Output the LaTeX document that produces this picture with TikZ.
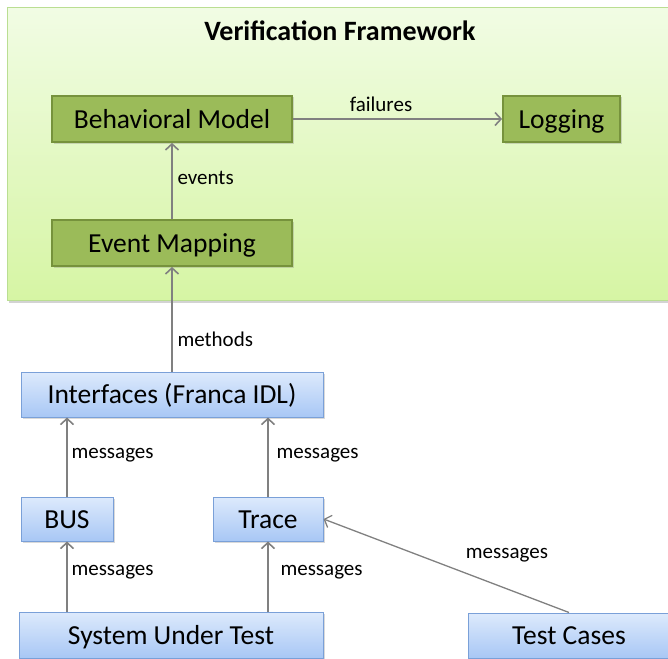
\documentclass[tikz,border=0pt]{standalone}
\usepackage{fontspec}
\setmainfont{Carlito}
\usetikzlibrary{arrows.meta,shadows}
\definecolor{FT}{RGB}{241,252,228}
\definecolor{FB}{RGB}{214,245,164}
\definecolor{FE}{RGB}{186,222,146}
\definecolor{G}{RGB}{155,187,89}
\definecolor{GD}{RGB}{118,146,60}
\definecolor{BT}{RGB}{221,234,252}
\definecolor{BB}{RGB}{168,199,245}
\definecolor{BD}{RGB}{122,160,216}
\definecolor{AR}{RGB}{128,128,128}

\tikzset{
  greenbox/.style={draw=GD, line width=1.8pt, fill=G, minimum height=46pt,
    inner sep=0pt, text height=21pt, text depth=3pt,
    font=\fontsize{27.5}{31}\selectfont,
    drop shadow={shadow xshift=1.5pt, shadow yshift=-1.5pt, opacity=.3}},
  bluebox/.style={draw=BD, line width=1pt, top color=BT, bottom color=BB,
    minimum height=45pt, inner sep=0pt, text height=21pt, text depth=3pt,
    font=\fontsize{27.5}{31}\selectfont,
    drop shadow={shadow xshift=1.5pt, shadow yshift=-1.5pt, opacity=.3}},
  flow/.style={draw=AR, line width=1.6pt, -{Straight Barb[length=6pt,width=13pt]}},
  lbl/.style={font=\fontsize{21}{25}\selectfont, anchor=west}
}

\begin{document}
\begin{tikzpicture}[x=1pt, y=-1pt]
   \useasboundingbox (0,0) rectangle (668,658);
   % framework panel
   \draw[FE, line width=1pt, top color=FT, bottom color=FB,
     drop shadow={shadow xshift=2pt, shadow yshift=-2.5pt, opacity=.35}]
     (7,8) rectangle (690,300);
   \node[font=\fontsize{28}{32}\selectfont\bfseries] (title) at (340,31) {Verification Framework};

   % model side
   \node[greenbox, minimum width=240pt] (bm) at (172,119) {Behavioral Model};
   \node[greenbox, minimum width=117pt] (log) at (561.5,119) {Logging};
   \node[greenbox, minimum width=240pt] (em) at (172,243) {Event Mapping};

   % system side
   \node[bluebox, minimum width=302pt] (ifc) at (172,394.5) {Interfaces (Franca IDL)};
   \node[bluebox, minimum width=92pt, minimum height=44pt] (bus) at (67,519) {BUS};
   \node[bluebox, minimum width=110pt, minimum height=44pt] (trace) at (268,519) {Trace};
   \node[bluebox, minimum width=304pt, minimum height=46pt] (sut) at (171,635) {System Under Test};
   \node[bluebox, minimum width=202pt] (tc) at (569,635.5) {Test Cases};

   % connectors
   \draw[flow] (bm) -- (log);
   \draw[flow] (em) -- (bm);
   \draw[flow] (ifc) -- (em);
   \draw[flow] (bus.north) -- (bus.north |- ifc.south);
   \draw[flow] (trace.north) -- (trace.north |- ifc.south);
   \draw[flow] (bus.south |- sut.north) -- (bus.south);
   \draw[flow] (trace.south |- sut.north) -- (trace.south);
   \draw[flow, line width=1.3pt] (tc.north) -- (trace.east);

   % labels
   \node[lbl, anchor=center] (lfail) at (381,104) {failures};
   \node[lbl] (levt) at (174,178) {events};
   \node[lbl] (lmeth) at (174,339) {methods};
   \node[lbl] (lm1) at (68,455) {messages};
   \node[lbl] (lm2) at (273,455) {messages};
   \node[lbl] (lm3) at (68,572) {messages};
   \node[lbl] (lm4) at (277,572) {messages};
   \node[lbl, anchor=center] (lm5) at (507,555) {messages};
\end{tikzpicture}
\end{document}
